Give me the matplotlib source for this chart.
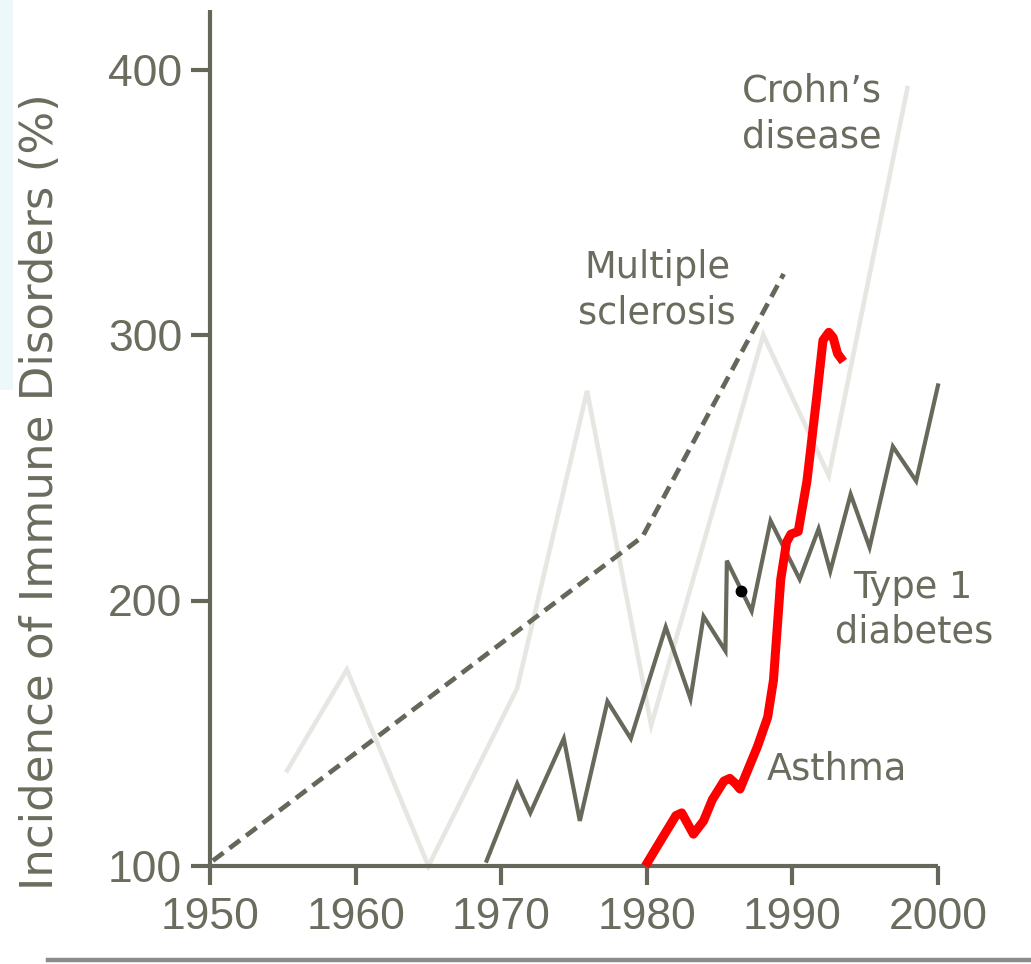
import matplotlib
matplotlib.use("Agg")
import matplotlib.pyplot as plt
from matplotlib.lines import Line2D
from matplotlib.patches import Rectangle

# ---------------- data ----------------
crohn_years = [1955.3, 1959.4, 1965.0, 1971.1, 1975.9, 1980.3, 1988.0, 1992.5, 1997.9]
crohn_vals = [136, 174, 100, 167, 279, 153, 300, 247, 393]

ms_years = [1950.2, 1979.7, 1989.4]
ms_vals = [102, 224, 323]

t1d_years = [1969.0, 1971.1, 1972.0, 1974.3, 1975.4, 1977.3, 1978.9, 1981.3, 1983.0,
             1983.9, 1985.4, 1985.5, 1987.2, 1988.5, 1990.5, 1991.8, 1992.6, 1994.0,
             1995.3, 1996.9, 1998.5, 2000.0]
t1d_vals = [102, 131, 120, 148, 117, 162, 148, 190, 163,
            194, 181, 215, 196, 230, 208, 227, 211, 240,
            220, 258, 245, 281]

asthma_years = [1979.9, 1981.0, 1982.0, 1982.4, 1982.7, 1983.2, 1983.9, 1984.5, 1985.3,
                1985.7, 1986.1, 1986.4, 1987.0, 1987.6, 1988.3, 1988.7, 1989.2, 1989.6,
                1989.9, 1990.4, 1991.0, 1991.7, 1992.1, 1992.5, 1992.8, 1993.1, 1993.5]
asthma_vals = [100, 110, 119, 120, 117, 112, 117, 125, 132,
               133, 131, 129, 137, 145, 156, 170, 208, 222,
               225, 226, 245, 278, 298, 301, 299, 293, 290]

dot_year = [1986.5]
dot_val = [203.5]

x_ticks = [1950, 1960, 1970, 1980, 1990, 2000]
y_ticks = [100, 200, 300, 400]
y_label = "Incidence of Immune Disorders (%)"

# ---------------- style ----------------
W, H = 1031, 964
tick_font = "Liberation Sans"
text_font = "DejaVu Sans"

TXT = "#6b6b5e"
AX = "#66665a"
T1D = "#68685b"
CROHN = "#e6e6e2"
RED = "#ff0000"

fig = plt.figure(figsize=(W / 100, H / 100), dpi=100)
fig.patch.set_facecolor("white")

# faint cyan strip on left edge
fig.patches.append(Rectangle((0, 1 - 390 / H), 13 / W, 390 / H, transform=fig.transFigure,
                             facecolor="#edf8fb", edgecolor="none", zorder=0))
# gray rule at bottom
fig.lines.append(Line2D([48 / W, 1.0], [1 - 960 / H, 1 - 960 / H], transform=fig.transFigure,
                        color="#8c8c8c", lw=3.2))

ax = fig.add_axes([210 / W, 1 - 866 / H, (938 - 210) / W, (866 - 10) / H])
ax.set_xlim(1950, 2000)
ax.set_ylim(100, 100 + (866 - 10) / 265.5 * 100)
ax.set_facecolor("none")

for s in ["top", "right"]:
    ax.spines[s].set_visible(False)
for s in ["left", "bottom"]:
    ax.spines[s].set_color(AX)
    ax.spines[s].set_linewidth(3.0)
    ax.spines[s].set_capstyle("butt")

ax.set_xticks(x_ticks)
ax.set_yticks(y_ticks)
ax.set_xticklabels([str(v) for v in x_ticks])
ax.set_yticklabels([str(v) for v in y_ticks])
ax.tick_params(axis="both", direction="out", length=14, width=3.0, color=AX,
               labelcolor=TXT, labelsize=32)
ax.tick_params(axis="x", pad=8)
ax.tick_params(axis="y", pad=6)
for lab in ax.get_xticklabels() + ax.get_yticklabels():
    lab.set_fontfamily(tick_font)

ax.set_ylabel(y_label, fontsize=32.5, color=TXT, family=text_font)
ax.yaxis.set_label_coords(-(210 - 41) / (938 - 210), (866 - 492) / (866 - 10))
ax.yaxis.label.set_va("center")

# ---------------- series ----------------
ax.plot(crohn_years, crohn_vals, color=CROHN, lw=3.3, clip_on=False, zorder=2,
        solid_joinstyle="miter")
ax.plot(ms_years, ms_vals, color=AX, lw=3.4, dashes=(2.8, 1.6), clip_on=False, zorder=3,
        dash_capstyle="butt")
ax.plot(t1d_years, t1d_vals, color=T1D, lw=3.0, clip_on=False, zorder=4,
        solid_joinstyle="miter")
ax.plot(asthma_years, asthma_vals, color=RED, lw=6.5, clip_on=False, zorder=5,
        solid_joinstyle="round", solid_capstyle="butt")
ax.plot(dot_year, dot_val, "o", color="black", ms=7.5, clip_on=False, zorder=6)

# ---------------- labels ----------------
def px2data(x, y):
    return 1950 + (x - 210) / 14.56, 100 + (866 - y) / 2.655

labels = [
    ("Crohn\u2019s", 812, 102), ("disease", 812, 147),
    ("Multiple", 657, 278), ("sclerosis", 657, 323),
    ("Type 1", 913, 598), ("diabetes", 914, 642),
    ("Asthma", 837, 780),
]
for t, x, y in labels:
    dx, dy = px2data(x, y)
    ax.text(dx, dy, t, ha="center", va="baseline", fontsize=26.5, color=TXT,
            family=text_font, clip_on=False, zorder=7)

fig.savefig("out.png", dpi=100)
